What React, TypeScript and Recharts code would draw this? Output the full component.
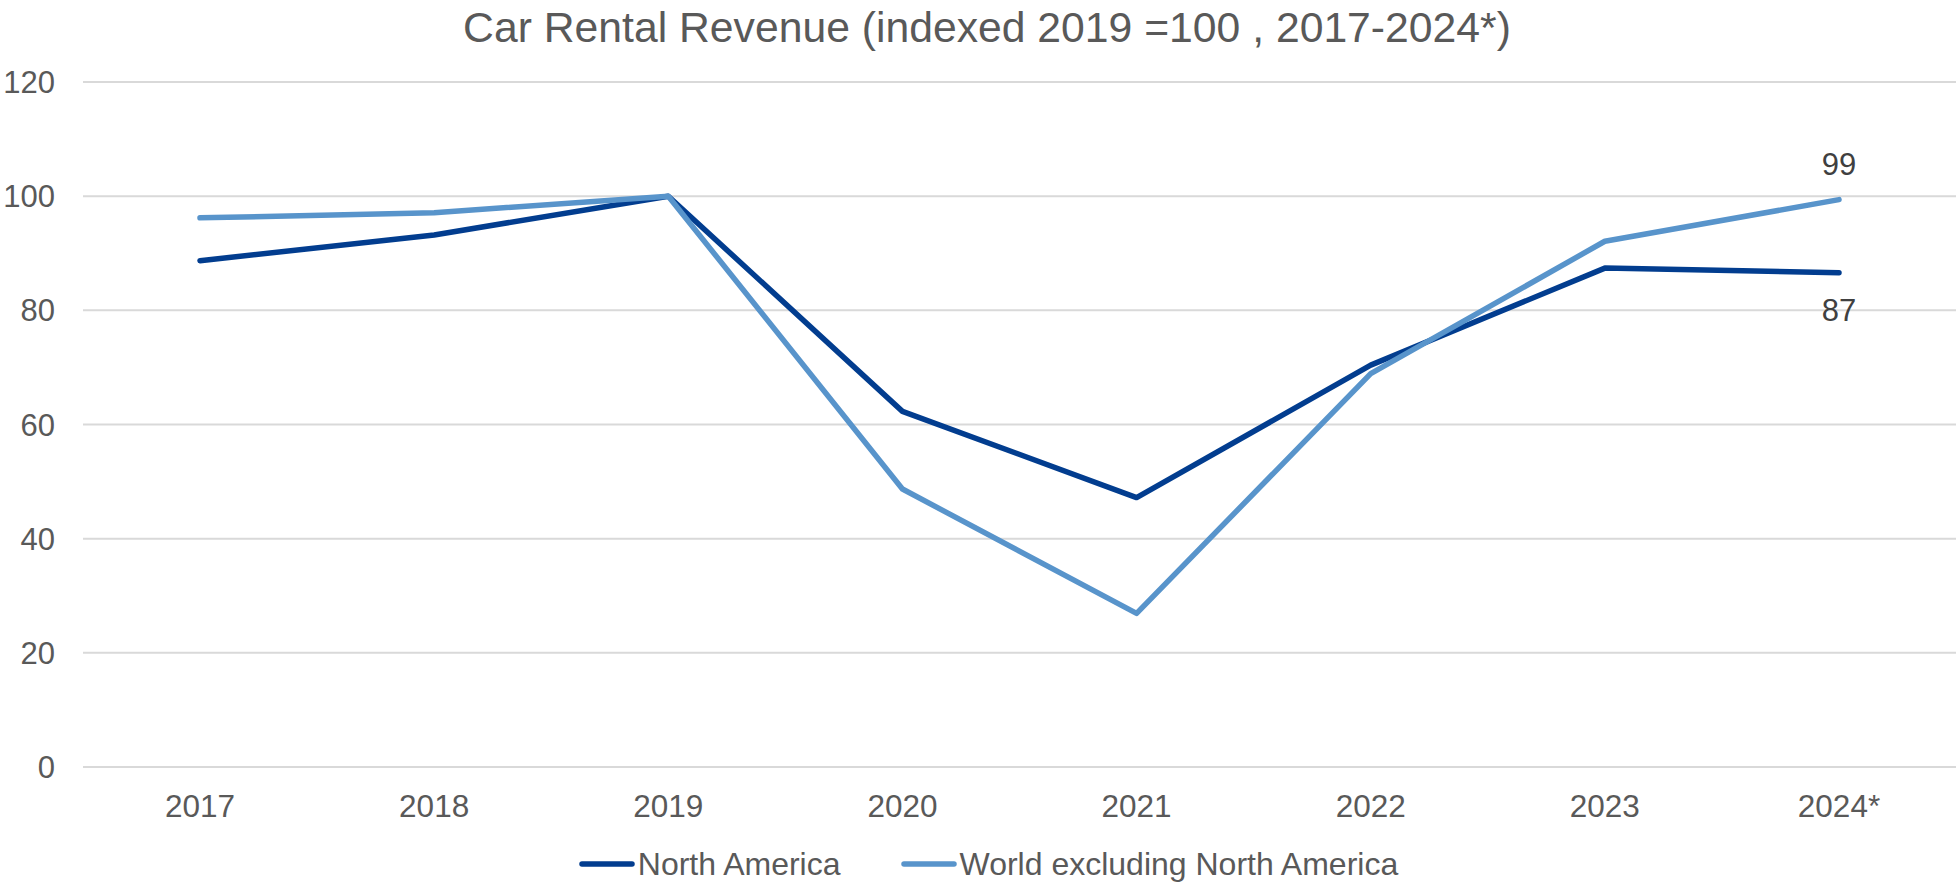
import React from "react";
import {
  LineChart,
  Line,
  XAxis,
  YAxis,
  CartesianGrid,
  Legend,
} from "recharts";

const years = ["2017", "2018", "2019", "2020", "2021", "2022", "2023", "2024*"];
const northAmerica = [88.7, 93.2, 100, 62.3, 47.2, 70.4, 87.4, 86.6];
const worldExNA = [96.2, 97.1, 100, 48.7, 26.9, 68.9, 92.1, 99.4];
const yTicks = [0, 20, 40, 60, 80, 100, 120];

const seriesInfo = [
  { key: "na", name: "North America", color: "#023D8F" },
  { key: "world", name: "World excluding North America", color: "#5894CB" },
];

const FONT = "'Liberation Sans', Arial, sans-serif";
const W = 1956;
const H = 883;

const chartData = years.map((year, i) => ({
  year,
  na: northAmerica[i],
  world: worldExNA[i],
}));

const lastIndex = years.length - 1;

function endLabel(dy: number) {
  return (props: any) => {
    const { x, y, value, index } = props;
    if (index !== lastIndex) return null;
    return (
      <text
        x={x}
        y={y + dy}
        textAnchor="middle"
        fill="#404040"
        fontSize={31}
        fontFamily={FONT}
      >
        {Math.round(value)}
      </text>
    );
  };
}

function ChartLegend() {
  return (
    <div
      style={{
        height: 38,
        display: "flex",
        alignItems: "center",
        justifyContent: "center",
        paddingLeft: 21,
        fontFamily: FONT,
        fontSize: 32,
        color: "#595959",
      }}
    >
      {seriesInfo.map((s, i) => (
        <div
          key={s.key}
          style={{ display: "flex", alignItems: "center", marginLeft: i > 0 ? 60 : 0 }}
        >
          <svg width={56} height={8} style={{ marginRight: 3 }}>
            <line
              x1={3}
              y1={4}
              x2={53}
              y2={4}
              stroke={s.color}
              strokeWidth={5.5}
              strokeLinecap="round"
            />
          </svg>
          <span style={{ lineHeight: "38px" }}>{s.name}</span>
        </div>
      ))}
    </div>
  );
}

export default function App() {
  return (
    <div
      style={{
        position: "absolute",
        left: 0,
        top: 0,
        width: W,
        height: H,
        background: "#FFFFFF",
        fontFamily: FONT,
      }}
    >
      <div
        style={{
          position: "absolute",
          top: 6,
          left: 0,
          width: W,
          paddingLeft: 18,
          boxSizing: "border-box",
          textAlign: "center",
          fontSize: 42.7,
          lineHeight: "42px",
          color: "#595959",
          whiteSpace: "nowrap",
        }}
      >
        Car Rental Revenue (indexed 2019 =100 , 2017-2024*)
      </div>
      <LineChart
        width={W}
        height={H}
        data={chartData}
        margin={{ top: 82, right: 0, left: 0, bottom: 0 }}
      >
        <CartesianGrid vertical={false} stroke="#D9D9D9" strokeWidth={2} />
        <XAxis
          dataKey="year"
          height={78}
          padding={{ left: 117, right: 117 }}
          tickLine={false}
          axisLine={false}
          tickMargin={22}
          tick={{ fontSize: 31.5, fill: "#595959", fontFamily: FONT }}
          interval={0}
        />
        <YAxis
          width={83}
          domain={[0, 120]}
          ticks={yTicks}
          tickLine={false}
          axisLine={false}
          tickMargin={22}
          tick={{ fontSize: 31, fill: "#595959", fontFamily: FONT }}
        />
        <Legend verticalAlign="bottom" content={() => <ChartLegend />} />
        <Line
          type="linear"
          dataKey="na"
          name="North America"
          stroke={seriesInfo[0].color}
          strokeWidth={5.5}
          strokeLinecap="round"
          strokeLinejoin="round"
          dot={false}
          isAnimationActive={false}
          label={endLabel(48)}
        />
        <Line
          type="linear"
          dataKey="world"
          name="World excluding North America"
          stroke={seriesInfo[1].color}
          strokeWidth={5.5}
          strokeLinecap="round"
          strokeLinejoin="round"
          dot={false}
          isAnimationActive={false}
          label={endLabel(-25)}
        />
      </LineChart>
    </div>
  );
}
